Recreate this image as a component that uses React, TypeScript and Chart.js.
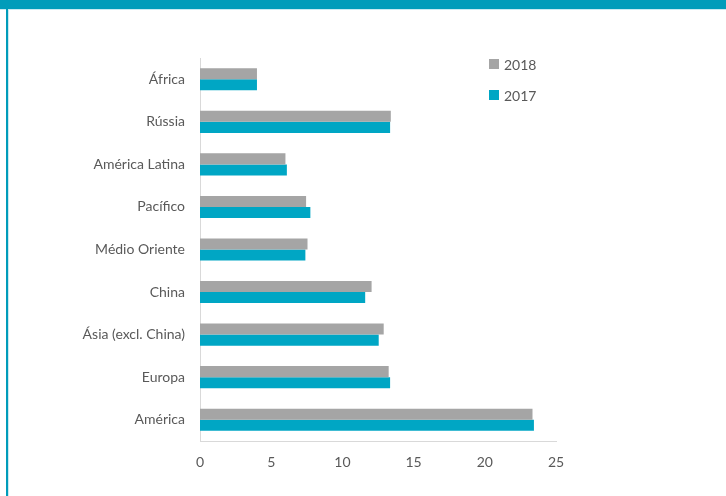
import React, { useEffect, useRef } from "react";
import { Chart, registerables } from "chart.js";

Chart.register(...registerables);

const categories = [
  "África",
  "Rússia",
  "América Latina",
  "Pacífico",
  "Médio Oriente",
  "China",
  "Ásia (excl. China)",
  "Europa",
  "América",
];
const values2018 = [4.0, 13.4, 6.0, 7.45, 7.55, 12.05, 12.9, 13.25, 23.35];
const values2017 = [4.0, 13.35, 6.1, 7.75, 7.4, 11.6, 12.55, 13.35, 23.45];
const seriesLabels = ["2018", "2017"];
const xTicks = { min: 0, max: 25, step: 5 };

const GRAY = "#A5A5A5";
const TEAL = "#00A6C4";
const FRAME = "#009CBA";
const TEXT = "#595959";
const FONT = "Lato, 'Open Sans', sans-serif";

export default function App() {
  const ref = useRef<HTMLCanvasElement>(null);

  useEffect(() => {
    document.body.style.margin = "0";
    const ctx = ref.current!.getContext("2d")!;
    const chart = new Chart(ctx, {
      type: "bar",
      data: {
        labels: categories,
        datasets: [
          {
            label: seriesLabels[0],
            data: values2018,
            backgroundColor: GRAY,
            barPercentage: 1,
            categoryPercentage: 0.52,
          },
          {
            label: seriesLabels[1],
            data: values2017,
            backgroundColor: TEAL,
            barPercentage: 1,
            categoryPercentage: 0.52,
          },
        ],
      },
      options: {
        indexAxis: "y",
        animation: false,
        responsive: false,
        maintainAspectRatio: false,
        layout: { padding: { top: 58, right: 170, left: 0, bottom: 0 } },
        plugins: {
          legend: { display: false },
          tooltip: { enabled: false },
        },
        scales: {
          x: {
            min: xTicks.min,
            max: xTicks.max,
            ticks: {
              stepSize: xTicks.step,
              color: TEXT,
              font: { family: FONT, size: 14 },
              padding: 13,
            },
            grid: { display: false, drawTicks: false },
            border: { display: true, color: "#D9D9D9", width: 1 },
            afterFit: (s: any) => {
              s.height = 55;
            },
          },
          y: {
            ticks: {
              color: TEXT,
              font: { family: FONT, size: 14 },
              padding: 15,
            },
            grid: { display: false, drawTicks: false },
            border: { display: true, color: "#D9D9D9", width: 1 },
            afterFit: (s: any) => {
              s.width = 200;
            },
          },
        },
      },
    });
    return () => chart.destroy();
  }, []);

  const legendItem = (label: string, color: string, top: number) => (
    <div
      style={{
        position: "absolute",
        left: 489,
        top,
        display: "flex",
        alignItems: "center",
        fontFamily: FONT,
        fontSize: 14,
        color: TEXT,
        height: 12,
      }}
    >
      <span
        style={{
          display: "inline-block",
          width: 10,
          height: 10,
          background: color,
          marginRight: 5,
        }}
      />
      <span>{label}</span>
    </div>
  );

  return (
    <div
      style={{
        position: "relative",
        width: 726,
        height: 496,
        background: "#fff",
        overflow: "hidden",
      }}
    >
      <canvas
        ref={ref}
        width={726}
        height={496}
        style={{ position: "absolute", left: 0, top: 0, width: 726, height: 496 }}
      />
      <div
        style={{
          position: "absolute",
          left: 0,
          top: 0,
          width: 726,
          height: 9,
          background: FRAME,
          borderBottom: "1px solid #C8EAF2",
        }}
      />
      <div
        style={{
          position: "absolute",
          left: 6,
          top: 9,
          width: 2,
          height: 487,
          background: FRAME,
          borderRight: "1px solid #C8EAF2",
        }}
      />
      {legendItem(seriesLabels[0], GRAY, 58)}
      {legendItem(seriesLabels[1], TEAL, 89)}
    </div>
  );
}
